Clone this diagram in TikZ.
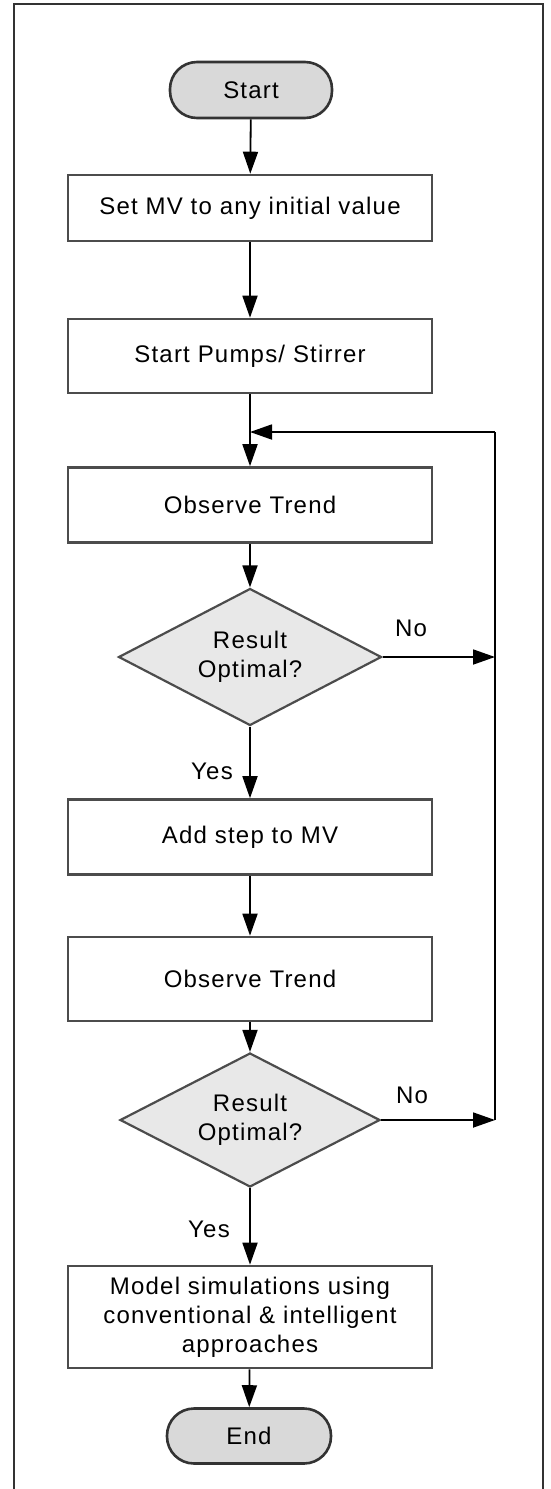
\documentclass[tikz,border=0pt]{standalone}
\usepackage{fontspec}
\setmainfont[LetterSpace=5]{Liberation Sans}
\usetikzlibrary{arrows.meta,shapes.geometric}
\begin{document}
\begin{tikzpicture}[x=1pt,y=-1pt,
  every node/.style={font=\fontsize{24}{29}\selectfont, align=center, inner sep=0pt},
  procbox/.style={draw=black!70, line width=2.6pt, fill=white, minimum width=364pt},
  termbox/.style={draw=black!80, line width=2.6pt, fill=black!15, rounded corners=27pt,
                  minimum width=162pt, minimum height=56pt},
  decbox/.style={diamond, aspect=1.92, draw=black!70, line width=2.2pt, fill=black!9,
                 minimum width=263pt, minimum height=137pt},
  flow/.style={-{Triangle[width=15pt,length=22pt]}, line width=1.8pt, black},
  loopline/.style={line width=1.8pt, black},
  answer/.style={font=\fontsize{24}{29}\selectfont}]
\useasboundingbox (0,0) rectangle (550,1489);

% outer frame, open at the bottom
\draw[line width=2pt, black!80] (14,1489) -- (14,4) -- (543,4) -- (543,1489);

% flowchart nodes
\node[termbox] (start) at (251,90) {Start};
\node[procbox, minimum height=66pt] (setmv) at (250,208) {Set MV to any initial value};
\node[procbox, minimum height=74pt] (pumps) at (250,356) {Start Pumps/ Stirrer};
\node[procbox, minimum height=75pt] (obs1) at (250,505) {Observe Trend};
\node[decbox] (dec1) at (250,657) {Result\\Optimal?};
\node[procbox, minimum height=75pt] (addstep) at (250,837) {Add step to MV};
\node[procbox, minimum height=84pt] (obs2) at (250,979) {Observe Trend};
\node[decbox, minimum width=260pt, minimum height=134pt] (dec2) at (250,1120) {Result\\Optimal?};
\node[procbox, minimum height=102pt] (model) at (250,1317)
  {Model simulations using\\conventional \& intelligent\\approaches};
\node[termbox, minimum width=164pt, minimum height=55pt] (end) at (249,1436) {End};

% return path on the right
\coordinate (ret1) at (495,657);
\coordinate (ret2) at (495,1120);
\coordinate (rettop) at (495,432);
\coordinate (merge) at (pumps.south |- rettop);

% main flow
\draw[flow] (start) -- (setmv);
\draw[flow] (setmv) -- (pumps);
\draw[flow] (pumps) -- (obs1);
\draw[flow] (obs1) -- (dec1);
\draw[flow] (dec1) -- (addstep);
\draw[flow] (addstep) -- (obs2);
\draw[flow] (obs2) -- (dec2);
\draw[flow] (dec2) -- (model);
\draw[flow] (model) -- (end);

% "No" branches back to the observation step
\draw[flow] (dec1.east) -- (ret1);
\draw[flow] (dec2.east) -- (ret2);
\draw[loopline] (ret2) -- (rettop);
\draw[flow] (rettop) -- (merge);

% branch labels
\node[answer] (no1) at (411,628) {No};
\node[answer] (no2) at (412,1095) {No};
\node[answer] (yes1) at (212,771) {Yes};
\node[answer] (yes2) at (209,1229) {Yes};
\end{tikzpicture}
\end{document}
